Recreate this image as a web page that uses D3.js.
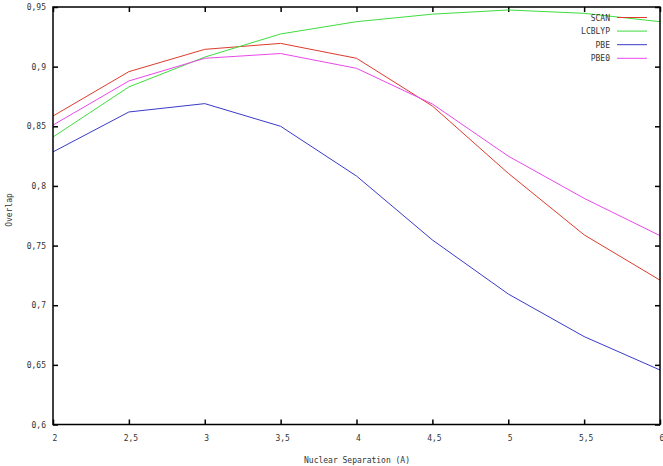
<!DOCTYPE html>
<html>
<head>
<meta charset="utf-8">
<script src="https://cdn.jsdelivr.net/npm/d3@7"></script>
<style>
  body { margin: 0; background: #fff; }
  svg text { font-family: "DejaVu Sans Mono", monospace; font-size: 8px; fill: #333; }
</style>
</head>
<body>
<div id="chart"></div>
<script>
// separations (x) and the four curves
var separation = [2, 2.5, 3, 3.5, 4, 4.5, 5, 5.5, 6];
var scan   = [0.8586, 0.8958, 0.9145, 0.9195, 0.907, 0.867, 0.8106, 0.759, 0.721];
var lcblyp = [0.841, 0.883, 0.908, 0.9274, 0.9377, 0.944, 0.9475, 0.9447, 0.9377];
var pbe    = [0.8285, 0.862, 0.869, 0.850, 0.8083, 0.7547, 0.7094, 0.6737, 0.6457];
var pbe0   = [0.851, 0.888, 0.907, 0.911, 0.8986, 0.8687, 0.825, 0.7896, 0.7583];
var seriesNames = ["SCAN", "LCBLYP", "PBE", "PBE0"];
var xTicks = [2, 2.5, 3, 3.5, 4, 4.5, 5, 5.5, 6];
var yTicks = [0.6, 0.65, 0.7, 0.75, 0.8, 0.85, 0.9, 0.95];

var width = 663, height = 466;
// plot box (window.top is reserved, so use own names)
var plotLeft = 53, plotRight = 660, plotTop = 7, plotBottom = 424.5;

var svg = d3.select("#chart").append("svg")
  .attr("width", width)
  .attr("height", height);

var x = d3.scaleLinear().domain([2, 6]).range([plotLeft, plotRight]);
var y = d3.scaleLinear().domain([0.6, 0.95]).range([plotBottom, plotTop]);

var fmt = function (d) { return String(d).replace(".", ","); };

// colours for the curves
var color = d3.scaleOrdinal()
  .domain(seriesNames)
  .range(["#dd3b2c", "#3fdc3f", "#3a3acb", "#ea48ea"]);

// axes with inward ticks, mirrored on top and right
svg.append("g")
  .attr("transform", "translate(0," + plotBottom + ")")
  .call(d3.axisTop(x).tickValues(xTicks).tickSize(5).tickFormat(""));
svg.append("g")
  .attr("transform", "translate(0," + plotTop + ")")
  .call(d3.axisBottom(x).tickValues(xTicks).tickSize(5).tickFormat(""));
svg.append("g")
  .attr("transform", "translate(" + plotLeft + ",0)")
  .call(d3.axisRight(y).tickValues(yTicks).tickSize(5).tickFormat(""));
svg.append("g")
  .attr("transform", "translate(" + plotRight + ",0)")
  .call(d3.axisLeft(y).tickValues(yTicks).tickSize(5).tickFormat(""));
svg.selectAll(".domain").remove();
svg.selectAll(".tick line").attr("stroke", "#000").attr("stroke-width", 1.5);

// tick labels
svg.selectAll(".xlab").data(xTicks).join("text")
  .attr("class", "xlab")
  .attr("x", function (d) { return x(d) + 2; })
  .attr("y", plotBottom + 16)
  .attr("text-anchor", "middle")
  .text(fmt);
svg.selectAll(".ylab").data(yTicks).join("text")
  .attr("class", "ylab")
  .attr("x", plotLeft - 7)
  .attr("y", function (d) { return y(d) + 3; })
  .attr("text-anchor", "end")
  .text(fmt);

svg.append("text")
  .attr("x", 357)
  .attr("y", 463)
  .attr("text-anchor", "middle")
  .text("Nuclear Separation (A)");
svg.append("text")
  .attr("transform", "translate(12,210) rotate(-90)")
  .attr("text-anchor", "middle")
  .text("Overlap");

// curves
var data = [scan, lcblyp, pbe, pbe0];
var line = d3.line()
  .x(function (d, i) { return x(separation[i]); })
  .y(function (d) { return y(d); });

svg.selectAll(".curve").data(data).join("path")
  .attr("class", "curve")
  .attr("d", line)
  .attr("fill", "none")
  .attr("stroke", function (d, i) { return color(seriesNames[i]); })
  .attr("stroke-width", 1);

// legend
var leg = svg.selectAll(".leg").data(seriesNames).join("g")
  .attr("class", "leg")
  .attr("transform", function (d, i) { return "translate(0," + (17.5 + i * 13.6) + ")"; });
leg.append("text")
  .attr("x", 610)
  .attr("y", 3)
  .attr("text-anchor", "end")
  .text(function (d) { return d; });
leg.append("line")
  .attr("x1", 617).attr("x2", 647)
  .attr("stroke", function (d) { return color(d); })
  .attr("stroke-width", 1);

// border
svg.append("rect")
  .attr("x", plotLeft).attr("y", plotTop)
  .attr("width", plotRight - plotLeft).attr("height", plotBottom - plotTop)
  .attr("fill", "none")
  .attr("stroke", "#000")
  .attr("stroke-width", 1.5);
</script>
</body>
</html>
